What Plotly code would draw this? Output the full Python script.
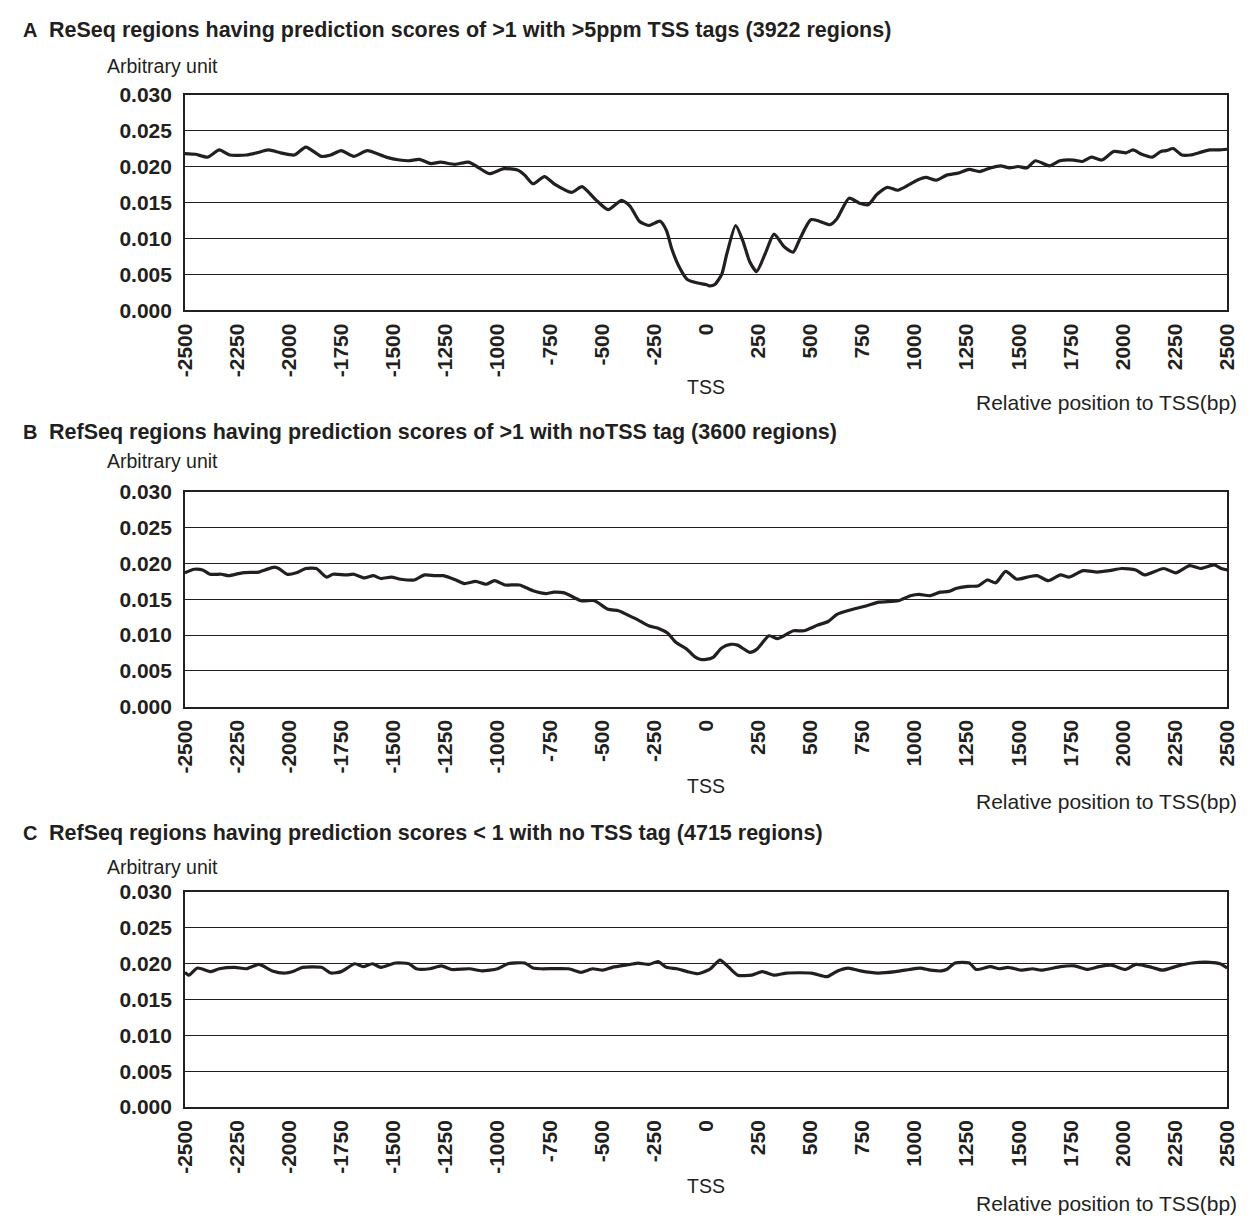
import plotly.graph_objects as go

# ---------------- DATA ----------------
tick_positions = list(range(-2500, 2501, 250))
y_ticks = [0.000, 0.005, 0.010, 0.015, 0.020, 0.025, 0.030]

titles = [
    "ReSeq regions having prediction scores of >1 with >5ppm TSS tags (3922 regions)",
    "RefSeq regions having prediction scores of >1 with noTSS tag (3600 regions)",
    "RefSeq regions having prediction scores < 1 with no TSS tag (4715 regions)",
]
panel_letters = ["A", "B", "C"]
y_label = "Arbitrary unit"
tss_label = "TSS"
x_label = "Relative position to TSS(bp)"

pos_a = [-2500, -2450, -2390, -2335, -2285, -2205, -2155, -2100, -2040, -1975, -1920, -1845,
         -1800, -1750, -1690, -1625, -1535, -1470, -1425, -1375, -1320, -1275, -1205, -1140,
         -1100, -1040, -970, -905, -870, -830, -775, -725, -645, -595, -530, -470, -405, -365,
         -320, -275, -220, -190, -165, -130, -90, -40, 0, 17, 42, 75, 100, 142, 176, 209, 242,
         284, 326, 376, 418, 451, 502, 543, 594, 627, 686, 736, 778, 819, 870, 920, 970, 1012,
         1054, 1104, 1154, 1212, 1262, 1313, 1363, 1413, 1455, 1497, 1538, 1580, 1647, 1697,
         1764, 1806, 1848, 1898, 1957, 2015, 2048, 2090, 2140, 2182, 2207, 2241, 2282, 2324,
         2375, 2416, 2458, 2500]
val_a = [0.0218, 0.0217, 0.0213, 0.0223, 0.0216, 0.0216, 0.0219, 0.0223, 0.0219, 0.0216,
         0.0227, 0.0214, 0.0216, 0.0222, 0.0214, 0.0222, 0.0213, 0.0209, 0.0208, 0.0210,
         0.0204, 0.0206, 0.0203, 0.0206, 0.0200, 0.0190, 0.0197, 0.0195, 0.0188, 0.0176,
         0.0186, 0.0175, 0.0164, 0.0172, 0.0154, 0.0140, 0.0153, 0.0145, 0.0124, 0.0118,
         0.0124, 0.0111, 0.0086, 0.0061, 0.0043, 0.0038, 0.0036, 0.0034, 0.0036, 0.0050,
         0.0079, 0.0118, 0.0097, 0.0068, 0.0054, 0.0079, 0.0106, 0.0088, 0.0081, 0.0100,
         0.0126, 0.0124, 0.0119, 0.0127, 0.0156, 0.0149, 0.0147, 0.0161, 0.0171, 0.0167,
         0.0174, 0.0181, 0.0185, 0.0181, 0.0188, 0.0191, 0.0196, 0.0193, 0.0198, 0.0201,
         0.0198, 0.0200, 0.0198, 0.0208, 0.0201, 0.0208, 0.0209, 0.0207, 0.0213, 0.0209,
         0.0221, 0.0219, 0.0223, 0.0217, 0.0213, 0.0221, 0.0222, 0.0225, 0.0216, 0.0216,
         0.0220, 0.0223, 0.0223, 0.0224]

pos_b = [-2500, -2455, -2415, -2380, -2325, -2290, -2225, -2145, -2115, -2070, -2050, -2010,
         -1965, -1920, -1870, -1820, -1790, -1725, -1690, -1640, -1595, -1560, -1510, -1465,
         -1400, -1350, -1300, -1260, -1200, -1160, -1105, -1055, -1015, -965, -895, -830,
         -765, -730, -680, -600, -535, -470, -420, -375, -325, -275, -225, -185, -145, -95,
         -55, -25, 0, 34, 75, 117, 151, 209, 243, 302, 344, 419, 469, 536, 586, 628, 704, 771,
         829, 922, 980, 1022, 1072, 1123, 1165, 1198, 1257, 1307, 1349, 1390, 1437, 1491,
         1541, 1588, 1642, 1700, 1742, 1809, 1876, 1935, 1994, 2061, 2103, 2195, 2253, 2320,
         2371, 2438, 2471, 2500]
val_b = [0.0187, 0.0192, 0.0191, 0.0185, 0.0185, 0.0183, 0.0187, 0.0188, 0.0191, 0.0195,
         0.0193, 0.0185, 0.0187, 0.0193, 0.0193, 0.0181, 0.0185, 0.0184, 0.0185, 0.0180,
         0.0183, 0.0179, 0.0181, 0.0178, 0.0177, 0.0184, 0.0183, 0.0183, 0.0177, 0.0172,
         0.0175, 0.0171, 0.0176, 0.0170, 0.0170, 0.0162, 0.0158, 0.0160, 0.0159, 0.0148,
         0.0148, 0.0136, 0.0134, 0.0128, 0.0121, 0.0113, 0.0109, 0.0103, 0.0090, 0.0081,
         0.0070, 0.0066, 0.0066, 0.0069, 0.0082, 0.0087, 0.0086, 0.0076, 0.0080, 0.0099,
         0.0095, 0.0106, 0.0106, 0.0114, 0.0119, 0.0129, 0.0136, 0.0141, 0.0146, 0.0148,
         0.0155, 0.0157, 0.0155, 0.0160, 0.0161, 0.0165, 0.0168, 0.0169, 0.0177, 0.0173,
         0.0189, 0.0178, 0.0181, 0.0183, 0.0176, 0.0184, 0.0181, 0.0190, 0.0188, 0.0190,
         0.0193, 0.0191, 0.0184, 0.0193, 0.0187, 0.0197, 0.0193, 0.0198, 0.0193, 0.0191]

pos_c = [-2500, -2480, -2440, -2375, -2335, -2260, -2205, -2145, -2080, -2025, -1975, -1935,
         -1845, -1800, -1750, -1685, -1645, -1600, -1560, -1490, -1425, -1390, -1325, -1270,
         -1220, -1135, -1075, -1000, -950, -870, -830, -790, -660, -600, -545, -495, -450,
         -365, -325, -275, -230, -190, -140, -90, -40, 17, 67, 109, 152, 219, 269, 328, 387,
         505, 581, 631, 682, 741, 825, 909, 976, 1027, 1077, 1128, 1153, 1195, 1263, 1296,
         1364, 1406, 1448, 1515, 1566, 1608, 1650, 1700, 1768, 1827, 1886, 1944, 2012, 2062,
         2138, 2189, 2264, 2332, 2416, 2466, 2500]
val_c = [0.0188, 0.0184, 0.0194, 0.0189, 0.0193, 0.0195, 0.0193, 0.0199, 0.0190, 0.0187,
         0.0190, 0.0195, 0.0195, 0.0187, 0.0189, 0.0200, 0.0196, 0.0200, 0.0195, 0.0201,
         0.0200, 0.0193, 0.0193, 0.0197, 0.0192, 0.0193, 0.0190, 0.0193, 0.0200, 0.0201,
         0.0194, 0.0193, 0.0193, 0.0188, 0.0193, 0.0191, 0.0195, 0.0199, 0.0201, 0.0199,
         0.0203, 0.0195, 0.0193, 0.0189, 0.0186, 0.0192, 0.0205, 0.0195, 0.0184, 0.0184,
         0.0189, 0.0184, 0.0187, 0.0187, 0.0182, 0.0190, 0.0194, 0.0190, 0.0187, 0.0189,
         0.0192, 0.0194, 0.0191, 0.0190, 0.0192, 0.0201, 0.0201, 0.0192, 0.0196, 0.0193,
         0.0195, 0.0191, 0.0193, 0.0191, 0.0193, 0.0196, 0.0197, 0.0192, 0.0196, 0.0198,
         0.0192, 0.0199, 0.0195, 0.0191, 0.0197, 0.0201, 0.0202, 0.0200, 0.0194]

# ---------------- LAYOUT ----------------
PAGE_W, PAGE_H = 1258, 1228
OFF = 8                      # default page margin around the figure div
W, H = PAGE_W - 2 * OFF, PAGE_H - 2 * OFF   # fit inside the window, no scrollbars
INK = "#231f20"
FONT = "Arial, Liberation Sans, Helvetica, sans-serif"

def px(x):
    return (x - OFF) / W

def py(y):
    return 1 - (y - OFF) / H

# plot-area pixel boxes (top, bottom) for each panel, in page pixels
boxes = [(84, 304), (489, 708), (897, 1116)]
x_left, x_right = 176, 1238
# text rows: (title y, y-label y, TSS y, x-label y)
text_rows = [(18, 55, 382, 398), (428, 458, 789, 805), (837, 871, 1197, 1214)]

series = [(pos_a, val_a), (pos_b, val_b), (pos_c, val_c)]

fig = go.Figure()
annotations = []
for i, ((xs, ys), (top, bot)) in enumerate(zip(series, boxes)):
    n = "" if i == 0 else str(i + 1)
    fig.add_trace(go.Scatter(
        x=xs, y=ys, mode="lines",
        line=dict(color=INK, width=3.2, shape="spline", smoothing=0.6),
        xaxis="x" + n, yaxis="y" + n, showlegend=False, hoverinfo="skip",
    ))
    fig.update_layout(**{
        "xaxis" + n: dict(
            domain=[px(x_left), px(x_right)], anchor="y" + n,
            range=[-2500, 2500], tickmode="array", tickvals=tick_positions,
            ticktext=[str(t) for t in tick_positions], tickangle=-90,
            showgrid=False, zeroline=False, showline=True, mirror=True,
            linecolor=INK, linewidth=1.5, ticks="outside", ticklen=3,
            tickcolor="rgba(0,0,0,0)",
            tickfont=dict(family=FONT, size=21, color=INK, weight="bold"),
        ),
        "yaxis" + n: dict(
            domain=[py(bot), py(top)], anchor="x" + n,
            range=[0, 0.030], tickmode="array", tickvals=y_ticks,
            ticktext=[f"{v:.3f}" for v in y_ticks],
            showgrid=True, gridcolor=INK, gridwidth=1.2, zeroline=False,
            showline=True, mirror=True, linecolor=INK, linewidth=1.5,
            ticks="outside", ticklen=7, tickcolor="rgba(0,0,0,0)",
            tickfont=dict(family=FONT, size=21, color=INK, weight="bold"),
        ),
    })
    t_y, yl_y, tss_y, xl_y = text_rows[i]
    annotations += [
        dict(text=f"<b>{panel_letters[i]}</b>", x=px(9), y=py(t_y), xanchor="left",
             yanchor="middle", font=dict(family=FONT, size=20, color=INK)),
        dict(text=f"<b>{titles[i]}</b>", x=px(35), y=py(t_y), xanchor="left",
             yanchor="middle", font=dict(family=FONT, size=21.5, color=INK)),
        dict(text=y_label, x=px(95), y=py(yl_y), xanchor="left", yanchor="middle",
             font=dict(family=FONT, size=19.5, color=INK)),
        dict(text=tss_label, x=px(707), y=py(tss_y), xanchor="center", yanchor="middle",
             font=dict(family=FONT, size=19.5, color=INK)),
        dict(text=x_label, x=px(1250), y=py(xl_y), xanchor="right", yanchor="middle",
             font=dict(family=FONT, size=21, color=INK)),
    ]

for a in annotations:
    a.update(xref="paper", yref="paper", showarrow=False)

fig.update_layout(
    width=W, height=H, margin=dict(l=0, r=0, t=0, b=0),
    paper_bgcolor="white", plot_bgcolor="white",
    annotations=annotations, showlegend=False,
    font=dict(family=FONT, color=INK),
)

fig.write_html("out.html", config={"displayModeBar": False})
